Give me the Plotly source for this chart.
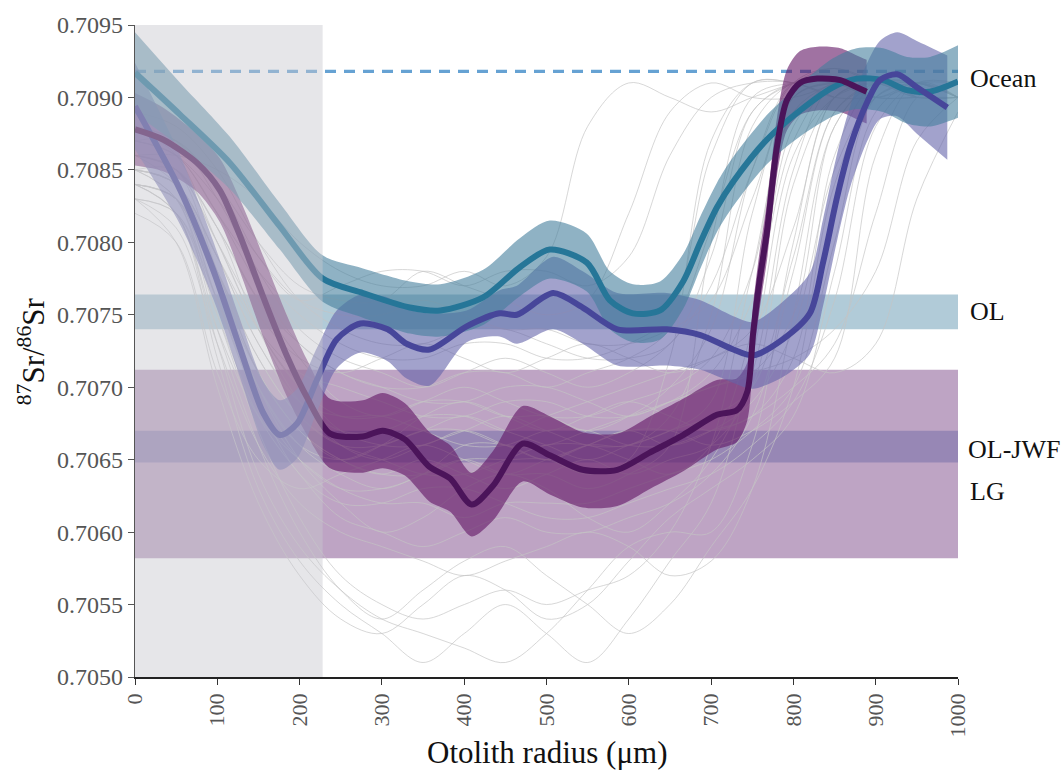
import plotly.graph_objects as go

# ---------------------------------------------------------------- data
# Individual otolith transects (87Sr/86Sr along radius, um)
gx = [0, 50, 100, 150, 200, 250, 300, 350, 400, 450, 500, 550, 600, 650, 700, 750, 800, 850, 900, 950, 1000]
gray_profiles = [
    [.7088, .7086, .7080, .7074, .7070, .7067, .7066, .7066, .7067, .7066, .7065, .7066, .7066, .7068, .7075, .7088, .7091, .7091, .7090, .7091, .7090],
    [.7086, .7085, .7078, .7071, .7067, .7065, .7064, .7065, .7064, .7063, .7064, .7065, .7064, .7065, .7066, .7070, .7084, .7090, .7091, .7090, None],
    [.7085, .7084, .7079, .7073, .7069, .7068, .7068, .7067, .7066, .7066, .7067, .7067, .7066, .7066, .7067, .7068, .7072, .7086, .7091, .7091, .7090],
    [.7084, .7083, .7076, .7070, .7066, .7064, .7063, .7064, .7065, .7064, .7064, .7063, .7064, .7066, .7080, .7090, .7091, .7091, .7090, None, None],
    [.7085, .7085, .7081, .7076, .7072, .7069, .7068, .7069, .7070, .7069, .7068, .7068, .7069, .7070, .7072, .7078, .7090, .7091, .7091, .7090, .7090],
    [.7087, .7086, .7082, .7077, .7073, .7071, .7070, .7069, .7069, .7070, .7070, .7069, .7068, .7069, .7070, .7071, .7075, .7088, .7091, .7091, None],
    [.7084, .7082, .7074, .7068, .7065, .7063, .7062, .7062, .7061, .7062, .7062, .7062, .7063, .7064, .7065, .7067, .7070, .7080, .7090, .7091, .7091],
    [.7089, .7088, .7085, .7080, .7076, .7074, .7073, .7073, .7074, .7074, .7073, .7072, .7072, .7073, .7079, .7089, .7091, .7092, .7091, None, None],
    [.7085, .7083, .7075, .7067, .7061, .7057, .7055, .7054, .7055, .7056, .7055, .7056, .7057, .7060, .7066, .7078, .7089, .7091, None, None, None],
    [.7084, .7082, .7072, .7063, .7058, .7055, .7053, .7051, .7053, .7055, .7053, .7051, .7054, .7058, .7062, .7072, .7086, .7090, .7091, None, None],
    [.7086, .7086, .7085, .7083, .7080, .7078, .7077, .7077, .7078, .7077, .7079, .7088, .7091, .7090, .7089, .7090, .7091, None, None, None, None],
    [.7083, .7081, .7073, .7066, .7062, .7060, .7059, .7058, .7057, .7058, .7059, .7060, .7059, .7057, .7058, .7063, .7075, .7088, .7091, .7090, None],
    [.7087, .7087, .7084, .7080, .7077, .7076, .7076, .7078, .7077, .7076, .7075, .7076, .7082, .7089, .7091, .7090, .7090, .7091, None, None, None],
    [.7082, .7080, .7071, .7065, .7063, .7064, .7065, .7066, .7065, .7064, .7065, .7066, .7067, .7066, .7067, .7069, .7074, .7085, .7090, .7091, .7090],
    [.7085, .7084, .7077, .7070, .7066, .7065, .7066, .7067, .7068, .7067, .7066, .7065, .7066, .7067, .7069, .7082, .7090, .7091, .7090, .7090, None],
    [.7083, .7080, .7070, .7062, .7057, .7054, .7053, .7055, .7057, .7056, .7054, .7055, .7058, .7061, .7063, .7065, .7068, .7078, .7089, .7091, .7090],
    [.7086, .7085, .7080, .7075, .7072, .7071, .7072, .7073, .7072, .7071, .7072, .7073, .7072, .7071, .7072, .7074, .7081, .7090, .7091, .7091, None],
    [.7084, .7083, .7078, .7072, .7068, .7066, .7065, .7064, .7064, .7065, .7066, .7066, .7065, .7064, .7066, .7074, .7088, .7091, .7090, None, None],
    [.7085, .7083, .7074, .7066, .7060, .7056, .7054, .7056, .7058, .7059, .7057, .7055, .7053, .7055, .7059, .7063, .7070, .7084, .7090, .7091, None],
    [.7088, .7087, .7083, .7078, .7074, .7072, .7071, .7070, .7071, .7072, .7071, .7070, .7071, .7073, .7077, .7085, .7091, .7092, .7091, .7091, .7090],
    [.7083, .7082, .7076, .7069, .7064, .7062, .7062, .7063, .7063, .7062, .7061, .7061, .7062, .7063, .7064, .7066, .7069, .7076, .7088, .7091, .7091],
    [.7086, .7085, .7081, .7074, .7069, .7066, .7065, .7066, .7067, .7068, .7067, .7066, .7066, .7067, .7068, .7070, .7079, .7089, .7091, None, None],
    [.7084, .7082, .7073, .7064, .7059, .7056, .7054, .7053, .7052, .7051, .7053, .7056, .7059, .7060, .7060, .7066, .7080, .7090, .7091, .7090, None],
    [.7087, .7086, .7083, .7079, .7076, .7075, .7075, .7076, .7075, .7074, .7074, .7073, .7073, .7074, .7076, .7083, .7090, .7091, .7091, .7090, .7090],
    [.7085, .7084, .7078, .7071, .7067, .7065, .7066, .7068, .7069, .7068, .7067, .7068, .7069, .7068, .7067, .7068, .7070, .7073, .7082, .7090, .7091],
    [.7084, .7083, .7077, .7070, .7065, .7062, .7060, .7061, .7063, .7064, .7063, .7061, .7060, .7062, .7065, .7071, .7085, .7091, .7091, None, None],
    [.7086, .7084, .7078, .7072, .7068, .7066, .7066, .7067, .7067, .7066, .7066, .7067, .7068, .7069, .7070, .7071, .7072, .7074, .7078, .7087, .7090],
    [.7085, .7084, .7079, .7073, .7069, .7067, .7067, .7068, .7068, .7067, .7068, .7069, .7070, .7071, .7072, .7073, .7072, .7071, .7073, .7083, .7089],
    [.7087, .7086, .7082, .7078, .7075, .7073, .7072, .7072, .7073, .7073, .7072, .7072, .7073, .7075, .7086, .7091, .7091, .7090, .7090, None, None],
    [.7084, .7083, .7077, .7071, .7067, .7065, .7064, .7064, .7065, .7065, .7065, .7064, .7065, .7072, .7087, .7091, .7091, .7090, None, None, None],
    [.7086, .7085, .7081, .7076, .7073, .7071, .7070, .7070, .7071, .7071, .7070, .7071, .7072, .7074, .7081, .7089, .7091, .7091, .7090, .7091, None],
    [.7083, .7082, .7075, .7068, .7064, .7061, .7060, .7059, .7060, .7061, .7060, .7060, .7061, .7062, .7064, .7068, .7078, .7089, .7091, .7091, .7090],
    [.7085, .7084, .7079, .7074, .7071, .7070, .7069, .7068, .7068, .7069, .7069, .7068, .7068, .7069, .7071, .7076, .7087, .7091, .7091, .7090, None],
    [.7088, .7087, .7084, .7079, .7076, .7077, .7078, .7078, .7077, .7078, .7078, .7077, .7079, .7086, .7090, .7091, .7091, .7090, None, None, None],
    [.7084, .7083, .7076, .7069, .7065, .7063, .7063, .7064, .7066, .7066, .7065, .7066, .7067, .7067, .7066, .7067, .7069, .7072, .7086, .7091, .7090],
    [.7086, .7085, .7080, .7074, .7070, .7068, .7068, .7069, .7069, .7068, .7068, .7067, .7068, .7070, .7074, .7085, .7091, .7091, .7090, .7090, .7090],
]

# Group mean profiles with confidence half-widths
teal_x = [0, 55, 115, 176, 228, 277, 334, 371, 423, 468, 504, 549, 577, 605, 638, 666, 687, 707, 727, 768, 808, 848, 877, 909, 938, 966, 1000]
teal_y = [.70917, .70888, .70855, .70811, .70775, .70765, .70755, .70753, .70762, .70783, .70795, .70786, .70760, .70751,
          .70753, .70773, .70800, .70824, .70842, .70871, .70891, .70907, .70913, .70912, .70905, .70904, .70911]
teal_hw = [.00028, .00022, .00018, .00016, .00016, .00017, .00018, .00018, .00019, .00020, .00020, .00020, .00020, .00020,
           .00020, .00019, .00018, .00017, .00017, .00017, .00018, .00020, .00021, .00022, .00023, .00024, .00025]

blue_x = [0, 55, 95, 127, 156, 176, 197, 221, 245, 274, 307, 330, 358, 403, 443, 464, 508, 544, 586, 646, 687, 727, 751,
          787, 820, 836, 853, 869, 889, 905, 926, 950, 987]
blue_y = [.70894, .70836, .70781, .70728, .70682, .70667, .70675, .70705, .70733, .70744, .70740, .70730, .70726, .70742,
          .70751, .70750, .70765, .70755, .70740, .70740, .70736, .70726, .70722, .70733, .70751, .70786, .70831, .70866,
          .70896, .70912, .70916, .70907, .70893]
blue_hw = [.00030, .00024, .00020, .00020, .00022, .00024, .00024, .00022, .00020, .00020, .00022, .00024, .00025, .00011,
           .00016, .00020, .00025, .00025, .00025, .00025, .00024, .00023, .00023, .00026, .00028, .00030, .00030, .00028,
           .00027, .00027, .00029, .00032, .00036]

purple_x = [0, 34, 75, 103, 128, 156, 185, 209, 237, 277, 301, 328, 358, 383, 409, 435, 471, 504, 544, 586, 626, 666, 707,
            731, 744, 751, 759, 768, 780, 792, 808, 829, 857, 877, 889]
purple_y = [.70878, .70871, .70855, .70836, .70804, .70762, .70721, .70693, .70668, .70666, .70670, .70664, .70645, .70637,
            .70619, .70632, .70661, .70653, .70643, .70643, .70655, .70667, .70681, .70684, .70697, .70737, .70774, .70808,
            .70866, .70898, .70910, .70913, .70912, .70907, .70904]
purple_hw = [.00025, .00022, .00020, .00022, .00025, .00028, .00028, .00026, .00024, .00025, .00026, .00025, .00024, .00023,
             .00022, .00024, .00026, .00027, .00026, .00025, .00025, .00025, .00024, .00022, .00020, .00020, .00020, .00020,
             .00020, .00021, .00022, .00022, .00022, .00022, .00022]

# Reference end-member ranges
ocean_value = 0.70918
ol_range = (0.70740, 0.70764)
lg_range = (0.70582, 0.70712)
oljwf_range = (0.70648, 0.70670)
core_limit = 228  # shaded core region (um)

x_ticks = list(range(0, 1001, 100))
y_ticks = [0.7050, 0.7055, 0.7060, 0.7065, 0.7070, 0.7075, 0.7080, 0.7085, 0.7090, 0.7095]

# ---------------------------------------------------------------- figure
SERIF = "Liberation Serif"
fig = go.Figure()

for prof in gray_profiles:
    fig.add_trace(go.Scatter(x=gx, y=prof, mode="lines", connectgaps=False,
                             line=dict(color="rgba(196,196,196,0.85)", width=0.8, shape="spline"),
                             hoverinfo="skip", showlegend=False))

fig.add_trace(go.Scatter(x=[0, 1000], y=[ocean_value, ocean_value], mode="lines",
                         line=dict(color="#66a2d3", width=3.2, dash="11px,8px"),
                         hoverinfo="skip", showlegend=False))

groups = [
    (purple_x, purple_y, purple_hw, "rgba(97,20,100,0.6)", "#4b145a"),
    (blue_x, blue_y, blue_hw, "rgba(100,100,170,0.6)", "#47469a"),
    (teal_x, teal_y, teal_hw, "rgba(68,127,157,0.6)", "#267698"),
]

for xs, ys, hw, fill, _ in groups:
    lower = [m - h for m, h in zip(ys, hw)]
    upper = [m + h for m, h in zip(ys, hw)]
    fig.add_trace(go.Scatter(x=xs, y=lower, mode="lines", line=dict(width=0, shape="spline", smoothing=0.8),
                             hoverinfo="skip", showlegend=False))
    fig.add_trace(go.Scatter(x=xs, y=upper, mode="lines", fill="tonexty", fillcolor=fill,
                             line=dict(width=0, shape="spline", smoothing=0.8),
                             hoverinfo="skip", showlegend=False))

for xs, ys, hw, _, col in groups[::-1]:
    fig.add_trace(go.Scatter(x=xs, y=ys, mode="lines",
                             line=dict(color=col, width=6, shape="spline", smoothing=0.8),
                             showlegend=False))

shapes = [
    dict(type="rect", xref="x", yref="y", x0=0, x1=1000, y0=lg_range[0], y1=lg_range[1],
         fillcolor="#bea4c4", line_width=0, layer="below"),
    dict(type="rect", xref="x", yref="y", x0=0, x1=1000, y0=oljwf_range[0], y1=oljwf_range[1],
         fillcolor="#9787b5", line_width=0, layer="below"),
    dict(type="rect", xref="x", yref="y", x0=0, x1=1000, y0=ol_range[0], y1=ol_range[1],
         fillcolor="#b1cbd8", line_width=0, layer="below"),
    dict(type="rect", xref="x", yref="paper", x0=0, x1=core_limit, y0=0, y1=1,
         fillcolor="rgba(200,200,206,0.45)", line_width=0, layer="above"),
]

label_font = dict(family=SERIF, size=26, color="#111111")
annotations = [
    dict(text="Ocean", x=1.012, xref="paper", y=0.70913, yref="y", xanchor="left", yanchor="middle", showarrow=False, font=label_font),
    dict(text="OL", x=1.012, xref="paper", y=0.70752, yref="y", xanchor="left", yanchor="middle", showarrow=False, font=label_font),
    dict(text="OL-JWF", x=1.010, xref="paper", y=0.70657, yref="y", xanchor="left", yanchor="middle", showarrow=False, font=label_font),
    dict(text="LG", x=1.012, xref="paper", y=0.70628, yref="y", xanchor="left", yanchor="middle", showarrow=False, font=label_font),
    dict(text="<sup>87</sup>Sr/<sup>86</sup>Sr", x=-0.126, xref="paper", y=0.5, yref="paper", textangle=-90,
         xanchor="center", yanchor="middle", showarrow=False, font=dict(family=SERIF, size=31, color="#111111")),
    dict(text="Otolith radius (\u03bcm)", x=0.5, xref="paper", y=-0.116, yref="paper",
         xanchor="center", yanchor="middle", showarrow=False, font=dict(family=SERIF, size=31, color="#111111")),
]

fig.update_layout(
    width=1063, height=772,
    margin=dict(l=135, r=105, t=25, b=95),
    paper_bgcolor="white", plot_bgcolor="white",
    shapes=shapes, annotations=annotations,
    showlegend=False,
)
fig.update_xaxes(range=[0, 1000], tickvals=x_ticks, ticktext=[str(v) for v in x_ticks], tickangle=-90,
                 showgrid=False, zeroline=False, showline=True, linecolor="#222222", linewidth=1.5,
                 ticks="outside", ticklen=6, tickcolor="#333333",
                 tickfont=dict(family=SERIF, size=22, color="#555555"))
fig.update_yaxes(range=[0.7050, 0.7095], tickvals=y_ticks, ticktext=[f"{v:.4f}" for v in y_ticks],
                 showgrid=False, zeroline=False, showline=True, linecolor="#555555", linewidth=1.2,
                 ticks="outside", ticklen=6, tickcolor="#555555",
                 tickfont=dict(family=SERIF, size=24, color="#555555"))

fig.write_html("out.html")
